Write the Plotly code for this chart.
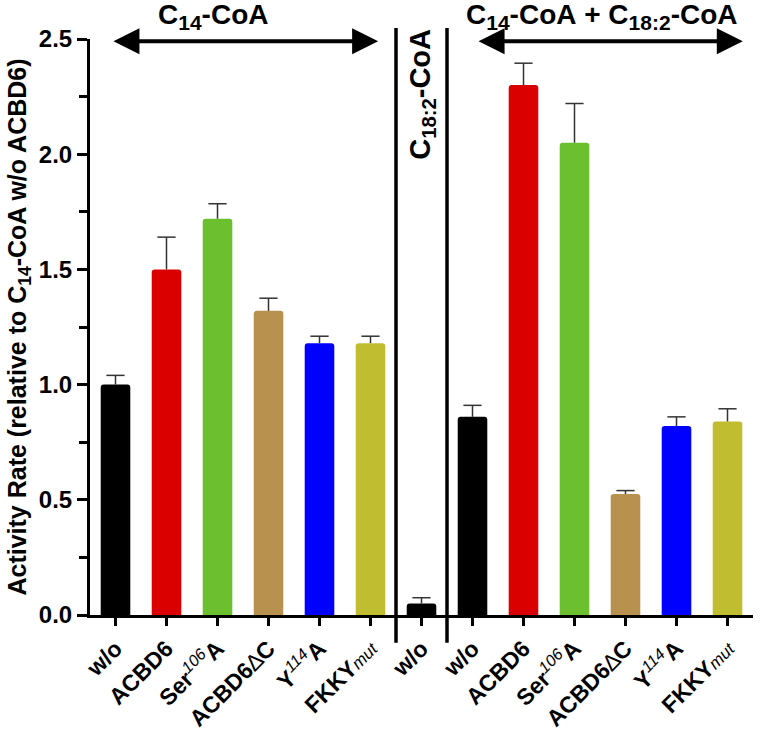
import plotly.graph_objects as go

# ---- data ----
positions = list(range(13))
tick_labels = [
    "w/o", "ACBD6", "Ser<sup><span style='font-weight:normal'><i>106</i></span></sup>A",
    "ACBD6<span style='font-weight:normal'>∆</span>C",
    "Y<sup><span style='font-weight:normal'><i>114</i></span></sup>A",
    "FKKY<span style='font-weight:normal;font-size:17px'><i>mut</i></span>",
    "w/o",
    "w/o", "ACBD6", "Ser<sup><span style='font-weight:normal'><i>106</i></span></sup>A",
    "ACBD6<span style='font-weight:normal'>∆</span>C",
    "Y<sup><span style='font-weight:normal'><i>114</i></span></sup>A",
    "FKKY<span style='font-weight:normal;font-size:17px'><i>mut</i></span>",
]
values = [1.00, 1.50, 1.72, 1.32, 1.18, 1.18,
          0.05,
          0.86, 2.30, 2.05, 0.525, 0.82, 0.84]
errors = [0.04, 0.14, 0.065, 0.055, 0.03, 0.03,
          0.025,
          0.05, 0.095, 0.17, 0.015, 0.04, 0.055]
colors = ["#000000", "#da0000", "#6cbf2f", "#b8914f", "#0000ff", "#c0bd30",
          "#000000",
          "#000000", "#da0000", "#6cbf2f", "#b8914f", "#0000ff", "#c0bd30"]

FONT = "Liberation Sans, Arial, sans-serif"

fig = go.Figure()
fig.add_trace(go.Bar(
    x=positions, y=values, width=0.58,
    marker=dict(color=colors, line=dict(width=0)),
    error_y=dict(type="data", symmetric=False, array=errors,
                 arrayminus=[0] * len(errors), color="#333333",
                 thickness=1.5, width=0),
    showlegend=False,
))
# error bar caps (upper only)
fig.add_trace(go.Scatter(
    x=positions, y=[v + e for v, e in zip(values, errors)], mode="markers",
    marker=dict(symbol="line-ew", size=13, line=dict(color="#333333", width=1.5)),
    showlegend=False, hoverinfo="skip",
))

# divider lines
for xv in (5.5, 6.5):
    fig.add_shape(type="line", xref="x", yref="paper", x0=xv, x1=xv,
                  y0=-0.048, y1=1.019, line=dict(color="black", width=3.5))

# double-headed arrows
for x0, x1 in ((-0.07, 5.15), (7.09, 12.3)):
    fig.add_annotation(x=x1, y=2.49, ax=x0, ay=2.49, xref="x", yref="y",
                       axref="x", ayref="y", text="", showarrow=True,
                       arrowhead=2, arrowside="end+start", arrowsize=1.3,
                       arrowwidth=4, arrowcolor="black")

SUB = "<sub><span style='font-size:21px'>{}</span></sub>"
fig.add_annotation(x=1.91, y=1.0, xref="x", yref="paper", yanchor="bottom",
                   text="C" + SUB.format("14") + "-CoA", showarrow=False, yshift=3,
                   font=dict(family=FONT, size=28, color="black", weight="bold"))
fig.add_annotation(x=9.54, y=1.0, xref="x", yref="paper", yanchor="bottom",
                   text="C" + SUB.format("14") + "-CoA&nbsp;+&nbsp;C" + SUB.format("18:2") + "-CoA",
                   showarrow=False, yshift=3,
                   font=dict(family=FONT, size=28, color="black", weight="bold"))
fig.add_annotation(x=6.02, y=2.26, xref="x", yref="y", textangle=-90,
                   text="C<sub>18:2</sub>-CoA", showarrow=False,
                   font=dict(family=FONT, size=29, color="black", weight="bold"))

fig.update_layout(
    width=762, height=732,
    margin=dict(l=90, r=9, t=39, b=117),
    plot_bgcolor="white", paper_bgcolor="white",
    barcornerradius=3,
    font=dict(family=FONT, color="black"),
)
fig.update_xaxes(
    range=[-0.5, 12.5], tickmode="array", tickvals=positions, ticktext=tick_labels,
    tickangle=-45, showline=True, linewidth=3, linecolor="black",
    ticks="outside", ticklen=8, tickwidth=3, tickcolor="black",
    showgrid=False, zeroline=False, automargin=False,
    tickfont=dict(family=FONT, size=23, color="black", weight="bold"),
)
fig.update_yaxes(
    range=[0, 2.5], tickvals=[0, 0.5, 1.0, 1.5, 2.0, 2.5],
    ticktext=["0.0", "0.5", "1.0", "1.5", "2.0", "2.5"],
    showline=True, linewidth=3, linecolor="black",
    ticks="outside", ticklen=10, tickwidth=3, tickcolor="black",
    minor=dict(tickvals=[0.25, 0.75, 1.25, 1.75, 2.25], ticks="outside",
               ticklen=8, tickwidth=3, tickcolor="black"),
    showgrid=False, zeroline=False, automargin=False,
    tickfont=dict(family=FONT, size=24, color="black", weight="bold"),
    title=dict(text="Activity Rate (relative to C<sub>14</sub>-CoA w/o ACBD6)",
               font=dict(family=FONT, size=25, color="black", weight="bold"),
               standoff=6),
)

fig.write_html("out.html", config={"displayModeBar": False},
               post_script="document.body.style.margin='0';")
